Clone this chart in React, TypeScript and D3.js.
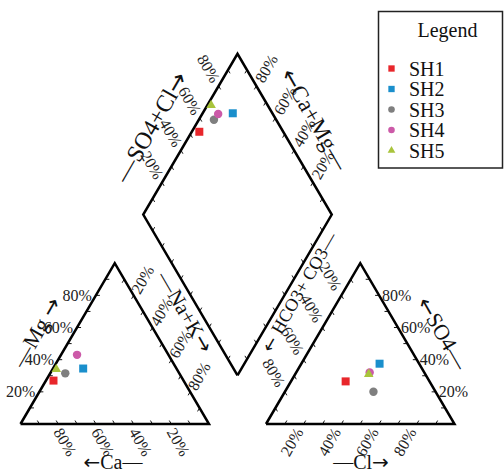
import React from 'react';
import * as d3 from 'd3';

const samples = ['SH1', 'SH2', 'SH3', 'SH4', 'SH5'];
const sampleColors = ['#e8262b', '#1a8fcc', '#7f7f7f', '#cc5aa8', '#a9c43c'];
const sampleShapes = ['square', 'square', 'circle', 'circle', 'triangle'];
// cations (%)
const caPct = [69, 49.5, 60.5, 48.5, 64];
const mgPct = [27, 34.5, 31.5, 43, 34];
const naKPct = [4, 16, 8, 8.5, 2];
// anions (%)
const hco3Pct = [44.5, 21, 33, 29, 30];
const so4Pct = [26.5, 37.5, 20, 32, 31];
const clPct = [29, 41.5, 47, 39, 39];

const tickPcts = [10, 20, 30, 40, 50, 60, 70, 80, 90];
const labelPcts = [20, 40, 60, 80];

const W = 504;
const H = 474;
const SIDE = 188.5;
const GAP = 57 / SIDE;
const S3 = Math.sqrt(3) / 2;
const FONT = "'Liberation Serif', 'DejaVu Serif', serif";
const ARROW_FONT = "'DejaVu Sans', sans-serif";

const xs = d3.scaleLinear().domain([0, 1]).range([20.5, 20.5 + SIDE]);
const ys = d3.scaleLinear().domain([0, 1]).range([424, 424 - SIDE * 0.985]);
type V = [number, number];
const scr = (u: V): V => [xs(u[0]), ys(u[1])];

const cation = (mg: number, nak: number): V => [nak + mg / 2, mg * S3];
const anion = (so4: number, cl: number): V => [1 + GAP + cl + so4 / 2, so4 * S3];
const B: V = [1 + GAP / 2, GAP * S3];
const diamond = (cam: number, sc: number): V => [B[0] + (sc - cam) / 2, B[1] + (cam + sc) * S3];

const symbolType: Record<string, any> = {
  square: d3.symbolSquare,
  circle: d3.symbolCircle,
  triangle: d3.symbolTriangle,
};
const bigSize: Record<string, number> = { square: 64, circle: 56, triangle: 40 };
const smallSize: Record<string, number> = { square: 40, circle: 34, triangle: 26 };

const line = d3.line<V>().x((d) => xs(d[0])).y((d) => ys(d[1]));

type Edge = { p: (f: number) => V; dir: V };
const cL: V = [0, 0], cR: V = [1, 0], cT: V = [0.5, S3];
const aL: V = [1 + GAP, 0], aR: V = [2 + GAP, 0], aT: V = [1.5 + GAP, S3];
const dB = B;
const dL: V = [B[0] - 0.5, B[1] + S3];
const dR: V = [B[0] + 0.5, B[1] + S3];
const dT: V = [B[0], B[1] + 2 * S3];
const lerp = (a: V, b: V, t: number): V => [a[0] + (b[0] - a[0]) * t, a[1] + (b[1] - a[1]) * t];
const c60 = 0.5, s60 = Math.sqrt(3) / 2;

const edges: Edge[] = [
  { p: (f) => lerp(cL, cR, f), dir: [-c60, -s60] },
  { p: (f) => lerp(cL, cT, f), dir: [1, 0] },
  { p: (f) => lerp(cT, cR, f), dir: [-c60, s60] },
  { p: (f) => lerp(aL, aR, f), dir: [c60, -s60] },
  { p: (f) => lerp(aR, aT, f), dir: [-1, 0] },
  { p: (f) => lerp(aT, aL, f), dir: [c60, s60] },
  { p: (f) => lerp(dL, dT, f), dir: [c60, s60] },
  { p: (f) => lerp(dR, dT, f), dir: [-c60, s60] },
  { p: (f) => lerp(dL, dB, f), dir: [c60, -s60] },
  { p: (f) => lerp(dR, dB, f), dir: [-c60, -s60] },
];

type Lab = { pos: V; text: string; rot: number; anchor: string };
const tickLabels: Lab[] = [];
labelPcts.forEach((k) => {
  const f = k / 100;
  let p = scr(lerp(cL, cR, 1 - f));
  tickLabels.push({ pos: [p[0] + 7, p[1] + 18], text: `${k}%`, rot: 60, anchor: 'middle' });
  p = scr(lerp(cL, cT, f));
  tickLabels.push({ pos: [p[0] - 4, p[1]], text: `${k}%`, rot: 0, anchor: 'end' });
  p = scr(lerp(cT, cR, f));
  tickLabels.push({ pos: [p[0] + 0.5 * 18, p[1] - s60 * 18], text: `${k}%`, rot: -60, anchor: 'middle' });
  p = scr(lerp(aL, aR, f));
  tickLabels.push({ pos: [p[0] - 12, p[1] + 18], text: `${k}%`, rot: -60, anchor: 'middle' });
  p = scr(lerp(aR, aT, f));
  tickLabels.push({ pos: [p[0] + 3, p[1]], text: `${k}%`, rot: 0, anchor: 'start' });
  p = scr(lerp(aT, aL, f));
  tickLabels.push({ pos: [p[0] - 0.5 * 22, p[1] - s60 * 22], text: `${k}%`, rot: 60, anchor: 'middle' });
  p = scr(lerp(dL, dT, f));
  tickLabels.push({ pos: [p[0] - 0.5 * 20, p[1] - s60 * 20], text: `${k}%`, rot: 60, anchor: 'middle' });
  p = scr(lerp(dR, dT, f));
  tickLabels.push({ pos: [p[0] + 0.5 * 20, p[1] - s60 * 20], text: `${k}%`, rot: -60, anchor: 'middle' });
});

type Title = { pos: V; pre: string; body: string; post: string; rot: number; size: number };
const axisTitles: Title[] = [
  { pos: [113, 462], pre: '←', body: 'Ca—', post: '', rot: 0, size: 20 },
  { pos: [361, 462], pre: '', body: '—Cl', post: '→', rot: 0, size: 20 },
  { pos: [36, 332], pre: '', body: '—Mg ', post: '→', rot: -60, size: 22 },
  { pos: [185, 312], pre: '', body: '—Na+K', post: '→', rot: 60, size: 21 },
  { pos: [299, 292], pre: '← ', body: 'HCO3+ CO3—', post: '', rot: -60, size: 18 },
  { pos: [151, 127], pre: '', body: '—SO4+Cl', post: '→', rot: -60, size: 24 },
  { pos: [315, 119], pre: '←', body: 'Ca+Mg—', post: '', rot: 60, size: 23 },
  { pos: [443, 333], pre: '←', body: 'SO4—', post: '', rot: 60, size: 22 },
];

export default function App() {
  const shapesPath = [
    [cL, cR, cT, cL],
    [aL, aR, aT, aL],
    [dB, dL, dT, dR, dB],
  ] as V[][];

  const points = samples.map((s, i) => {
    const cam = (caPct[i] + mgPct[i]) / 100;
    const sc = (so4Pct[i] + clPct[i]) / 100;
    return {
      i,
      c: scr(cation(mgPct[i] / 100, naKPct[i] / 100)),
      a: scr(anion(so4Pct[i] / 100, clPct[i] / 100)),
      d: scr(diamond(cam, sc)),
    };
  });

  const legendY0 = 68.5;
  const legendDy = 20.5;
  const tf = { fontFamily: FONT };
  const af = { fontFamily: ARROW_FONT };

  return (
    <svg width={W} height={H} style={{ position: 'absolute', left: 0, top: 0, background: '#fff' }}>
      <rect x={0} y={0} width={W} height={H} fill="#fff" />
      {edges.map((e, ei) =>
        tickPcts.map((k) => {
          const p = scr(e.p(k / 100));
          return (
            <line
              key={`t${ei}-${k}`}
              x1={p[0]}
              y1={p[1]}
              x2={p[0] + e.dir[0] * 4}
              y2={p[1] + e.dir[1] * 4}
              stroke="#111"
              strokeWidth={1}
            />
          );
        })
      )}
      {shapesPath.map((pts, i) => (
        <path key={`s${i}`} d={line(pts) || ''} fill="none" stroke="#000" strokeWidth={2.5} strokeLinejoin="miter" />
      ))}
      {tickLabels.map((l, i) => (
        <text
          key={`l${i}`}
          x={l.pos[0]}
          y={l.pos[1]}
          style={tf}
          fontSize={16}
          textAnchor={l.anchor}
          dominantBaseline="central"
          transform={l.rot ? `rotate(${l.rot},${l.pos[0]},${l.pos[1]})` : undefined}
          fill="#222"
        >
          {l.text}
        </text>
      ))}
      {axisTitles.map((l, i) => (
        <text
          key={`a${i}`}
          x={l.pos[0]}
          y={l.pos[1]}
          style={tf}
          fontSize={l.size}
          textAnchor="middle"
          dominantBaseline="central"
          transform={l.rot ? `rotate(${l.rot},${l.pos[0]},${l.pos[1]})` : undefined}
          fill="#111"
        >
          {l.pre ? <tspan style={af}>{l.pre}</tspan> : null}
          <tspan>{l.body}</tspan>
          {l.post ? <tspan style={af}>{l.post}</tspan> : null}
        </text>
      ))}
      {points.map((p) =>
        (['c', 'a', 'd'] as const).map((k) => (
          <path
            key={`p${p.i}${k}`}
            d={d3.symbol().type(symbolType[sampleShapes[p.i]]).size(bigSize[sampleShapes[p.i]])() || ''}
            transform={`translate(${p[k][0]},${p[k][1]})`}
            fill={sampleColors[p.i]}
          />
        ))
      )}
      <rect x={378.5} y={11.5} width={124} height={156.5} fill="#fff" stroke="#222" strokeWidth={1.5} />
      <text x={447.5} y={30} style={tf} fontSize={20} textAnchor="middle" dominantBaseline="central" fill="#111">
        Legend
      </text>
      {samples.map((s, i) => (
        <g key={`lg${i}`} transform={`translate(0,${legendY0 + i * legendDy})`}>
          <path
            d={d3.symbol().type(symbolType[sampleShapes[i]]).size(smallSize[sampleShapes[i]])() || ''}
            transform="translate(391.5,0)"
            fill={sampleColors[i]}
          />
          <text x={409} y={0} style={tf} fontSize={20} dominantBaseline="central" fill="#111">
            {s}
          </text>
        </g>
      ))}
    </svg>
  );
}
